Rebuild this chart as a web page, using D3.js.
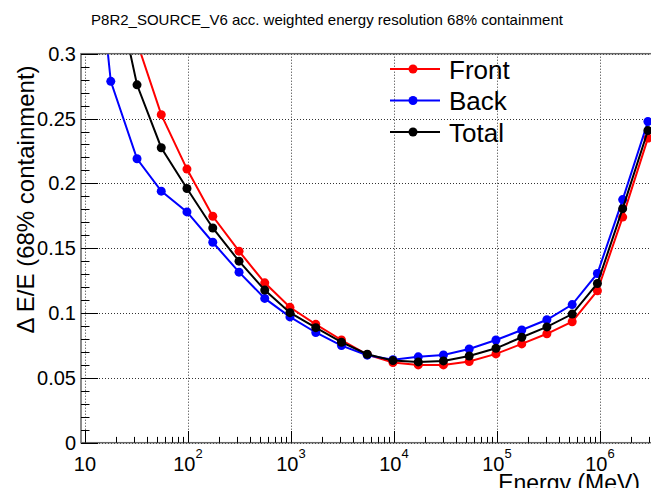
<!DOCTYPE html>
<html>
<head>
<meta charset="utf-8">
<script src="https://cdn.jsdelivr.net/npm/d3@7"></script>
<style>
  html, body { margin: 0; padding: 0; background: #fff; }
  svg { display: block; font-family: "Liberation Sans", Arial, Helvetica, sans-serif; }
</style>
</head>
<body>
<svg id="chart" width="651" height="488"></svg>
<script>
// ---- data ----
const energy = [10, 17.8, 32, 55, 97.7, 174, 313, 556, 977, 1740, 3090, 5500, 9770,
                17200, 30200, 53700, 97700, 174000, 305000, 537000, 944000, 1660000, 2920000];
const front = [null, null, 0.309, 0.253, 0.211, 0.1746, 0.1477, 0.1233, 0.1044, 0.0913, 0.0792, 0.0680, 0.0618,
               0.0600, 0.0600, 0.0626, 0.0685, 0.0762, 0.0840, 0.0933, 0.1172, 0.1740, 0.2349];
const back  = [0.47, 0.2787, 0.219, 0.194, 0.178, 0.1546, 0.1315, 0.1113, 0.0970, 0.0850, 0.0749, 0.0675, 0.0640,
               0.0662, 0.0677, 0.0723, 0.0792, 0.0869, 0.0948, 0.1065, 0.1305, 0.1875, 0.2477];
const total = [null, 0.37, 0.276, 0.2275, 0.196, 0.1656, 0.140, 0.1177, 0.1003, 0.0887, 0.0775, 0.0682, 0.0633,
               0.0623, 0.0631, 0.0669, 0.0728, 0.0813, 0.0893, 0.0992, 0.1228, 0.1805, 0.2408];
const seriesNames = ["Front", "Back", "Total"];
const seriesColors = ["#ff0000", "#0000ff", "#000000"];
const yTicks = [0, 0.05, 0.1, 0.15, 0.2, 0.25, 0.3];
const yTickLabels = ["0", "0.05", "0.1", "0.15", "0.2", "0.25", "0.3"];
const xDecades = [1, 2, 3, 4, 5, 6];
const titleText = "P8R2_SOURCE_V6 acc. weighted energy resolution 68% containment";
const xTitle = "Energy (MeV)";
const yTitle = "\u0394 E/E (68% containment)";

// ---- layout ----
const L = 81, R = 653, T = 53.7, B = 442.7;
const x = d3.scaleLog().domain([Math.pow(10, 0.9612), Math.pow(10, 1 + (R - 85) / 103)]).range([L, R]);
const y = d3.scaleLinear().domain([0, 0.3]).range([B, T]);

const svg = d3.select("#chart");
const font = '"Liberation Sans", Arial, Helvetica, sans-serif';

// title
svg.append("text").attr("x", 327).attr("y", 25).attr("text-anchor", "middle")
  .attr("font-size", 15).attr("fill", "#000").text(titleText);

// grid
const grid = svg.append("g").attr("stroke", "#333").attr("stroke-width", 1).attr("stroke-dasharray", "1,2");
xDecades.forEach(d => {
  const xv = Math.round(x(Math.pow(10, d))) + 0.5;
  grid.append("line").attr("x1", xv).attr("x2", xv).attr("y1", T).attr("y2", B);
});
yTicks.forEach(t => {
  const yv = Math.round(y(t)) + 0.5;
  grid.append("line").attr("x1", L).attr("x2", R).attr("y1", yv).attr("y2", yv);
});

// clip
svg.append("defs").append("clipPath").attr("id", "plotclip")
  .append("rect").attr("x", L).attr("y", T).attr("width", R - L).attr("height", B - T);

// series
const allSeries = [front, back, total];
const plot = svg.append("g").attr("clip-path", "url(#plotclip)");
allSeries.forEach((vals, si) => {
  const pts = energy.map((e, i) => ({ e, v: vals[i] })).filter(p => p.v !== null);
  const line = d3.line().x(p => x(p.e)).y(p => y(p.v));
  plot.append("path").datum(pts).attr("d", line).attr("fill", "none")
    .attr("stroke", seriesColors[si]).attr("stroke-width", 2);
  plot.selectAll(null).data(pts).enter().append("circle")
    .attr("cx", p => x(p.e)).attr("cy", p => y(p.v)).attr("r", 4.5)
    .attr("fill", seriesColors[si]);
});

// frame
const frame = svg.append("g");
frame.append("rect").attr("x", L).attr("y", T).attr("width", R - L).attr("height", B - T)
  .attr("fill", "none").attr("stroke", "#666").attr("stroke-width", 1.5);

// y ticks (inward)
const ticks = svg.append("g").attr("stroke", "#000").attr("stroke-width", 1);
for (let k = 0; k <= 30; k++) {
  const v = k / 100;
  const yv = Math.round(y(v)) + 0.5;
  const len = (k % 5 === 0) ? 17 : 8.5;
  ticks.append("line").attr("x1", L).attr("x2", L + len).attr("y1", yv).attr("y2", yv);
}
// x ticks (inward)
for (let d = 0; d <= 6; d++) {
  for (let m = 1; m <= 9; m++) {
    const e = m * Math.pow(10, d);
    if (e < x.domain()[0] || e > x.domain()[1]) continue;
    const xv = Math.round(x(e)) + 0.5;
    const len = (m === 1) ? 11.7 : 5.8;
    ticks.append("line").attr("x1", xv).attr("x2", xv).attr("y1", B).attr("y2", B - len);
  }
}

// y tick labels
yTicks.forEach((t, i) => {
  svg.append("text").attr("x", 76).attr("y", y(t) + 7).attr("text-anchor", "end")
    .attr("font-size", 20).attr("fill", "#000").text(yTickLabels[i]);
});
// x tick labels
xDecades.forEach(d => {
  const t = svg.append("text").attr("x", x(Math.pow(10, d))).attr("y", 470.5)
    .attr("text-anchor", "middle").attr("font-size", 20).attr("fill", "#000");
  t.append("tspan").text("10");
  if (d > 1) t.append("tspan").attr("font-size", 13).attr("dy", -13).text(String(d));
});

// axis titles
svg.append("text").attr("x", 640).attr("y", 491).attr("text-anchor", "end")
  .attr("font-size", 23).attr("fill", "#000").text(xTitle);
svg.append("text").attr("transform", "translate(34,199.5) rotate(-90)").attr("text-anchor", "middle")
  .attr("font-size", 24).attr("fill", "#000").text(yTitle);

// legend
const legY = [69, 100.5, 132];
seriesNames.forEach((n, i) => {
  const g = svg.append("g");
  g.append("line").attr("x1", 390).attr("x2", 440).attr("y1", legY[i]).attr("y2", legY[i])
    .attr("stroke", seriesColors[i]).attr("stroke-width", 2);
  g.append("circle").attr("cx", 413).attr("cy", legY[i]).attr("r", 4.5).attr("fill", seriesColors[i]);
  g.append("text").attr("x", 449).attr("y", legY[i] + 9.5).attr("font-size", 26)
    .attr("fill", "#000").text(n);
});
</script>
</body>
</html>
